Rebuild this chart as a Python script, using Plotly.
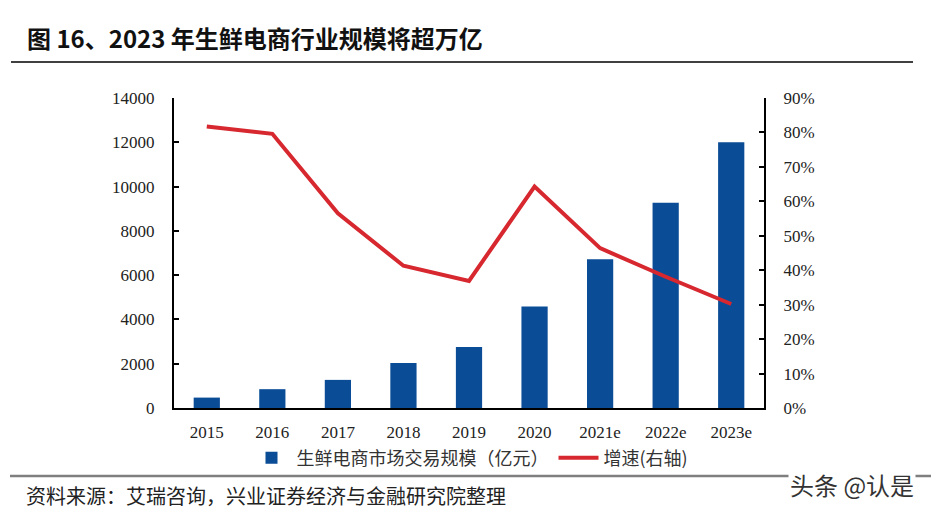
import plotly.graph_objects as go

years = ["2015", "2016", "2017", "2018", "2019", "2020", "2021e", "2022e", "2023e"]
market_size = [470, 850, 1270, 2030, 2760, 4580, 6720, 9270, 12000]
growth_pct = [81.7, 79.6, 56.5, 41.3, 36.9, 64.3, 46.4, 38.1, 30.2]
left_ticks = [0, 2000, 4000, 6000, 8000, 10000, 12000, 14000]
right_ticks = [0, 10, 20, 30, 40, 50, 60, 70, 80, 90]

title_text = "图 16、2023 年生鲜电商行业规模将超万亿"
source_text = "资料来源：艾瑞咨询，兴业证券经济与金融研究院整理"
watermark_text = "头条 @认是"
bar_name = "生鲜电商市场交易规模（亿元）"
line_name = "增速(右轴)"

# the page's body margin is removed below, so figure pixels == page pixels
W, H = 931, 512
L, R, T, B = 174, 764, 98, 408


def px(x):
    return (x - L) / (R - L)


def py(y):
    return (B - y) / (B - T)


cjk = "Noto Sans CJK SC"
serif = "Liberation Serif"

fig = go.Figure()
fig.add_trace(go.Bar(
    x=years, y=market_size, name=bar_name,
    marker=dict(color="#0A4C96", line=dict(width=0)),
    yaxis="y",
))
fig.add_trace(go.Scatter(
    x=years, y=growth_pct, name=line_name, mode="lines",
    line=dict(color="#D7282F", width=4),
    yaxis="y2",
))

fig.update_layout(
    width=W, height=H,
    margin=dict(l=L, r=W - R, t=T, b=H - B, pad=0),
    paper_bgcolor="white", plot_bgcolor="white",
    bargap=0.6,
    showlegend=True,
    legend=dict(
        orientation="h", x=px(470), xanchor="center", y=py(458), yanchor="middle",
        font=dict(family=cjk, size=18, color="#333333"),
        bgcolor="rgba(0,0,0,0)", itemwidth=40, traceorder="normal",
    ),
    xaxis=dict(
        type="category", showline=True, linecolor="#000000", linewidth=2,
        ticks="", showgrid=False, zeroline=False,
        tickfont=dict(family=serif, size=17, color="#222222"),
        ticklabelstandoff=8,
    ),
    yaxis=dict(
        range=[0, 14000], tickvals=left_ticks, ticktext=[str(v) for v in left_ticks],
        showline=True, linecolor="#000000", linewidth=2,
        ticks="inside", ticklen=5, tickcolor="#000000", tickwidth=1.5,
        showgrid=False, zeroline=False,
        tickfont=dict(family=serif, size=17, color="#222222"),
        ticklabelstandoff=14,
    ),
    yaxis2=dict(
        range=[0, 90], tickvals=right_ticks, ticktext=[f"{v}%" for v in right_ticks],
        overlaying="y", side="right",
        showline=True, linecolor="#000000", linewidth=2,
        ticks="inside", ticklen=5, tickcolor="#000000", tickwidth=1.5,
        showgrid=False, zeroline=False,
        tickfont=dict(family=serif, size=17, color="#222222"),
        ticklabelstandoff=14,
    ),
    shapes=[
        dict(type="line", xref="paper", yref="paper", x0=px(11), x1=px(913),
             y0=py(62), y1=py(62), line=dict(color="#000000", width=1.5)),
        dict(type="line", xref="paper", yref="paper", x0=px(10), x1=px(931),
             y0=py(476), y1=py(476), line=dict(color="#7F7F7F", width=2.5)),
    ],
    annotations=[
        dict(text="<b>" + title_text + "</b>", xref="paper", yref="paper",
             x=px(25), y=py(38), xanchor="left", yanchor="middle", showarrow=False,
             font=dict(family=cjk, size=24, color="#111111")),
        dict(text=source_text, xref="paper", yref="paper",
             x=px(24), y=py(495), xanchor="left", yanchor="middle", showarrow=False,
             font=dict(family=cjk, size=20, color="#222222")),
        dict(text=watermark_text, xref="paper", yref="paper",
             x=px(916), y=py(484), xanchor="right", yanchor="middle", showarrow=False,
             bgcolor="white",
             font=dict(family=cjk, size=24, color="#333333")),
    ],
)

fig.write_html("out.html", config={"displayModeBar": False},
               post_script="document.body.style.margin='0';")
